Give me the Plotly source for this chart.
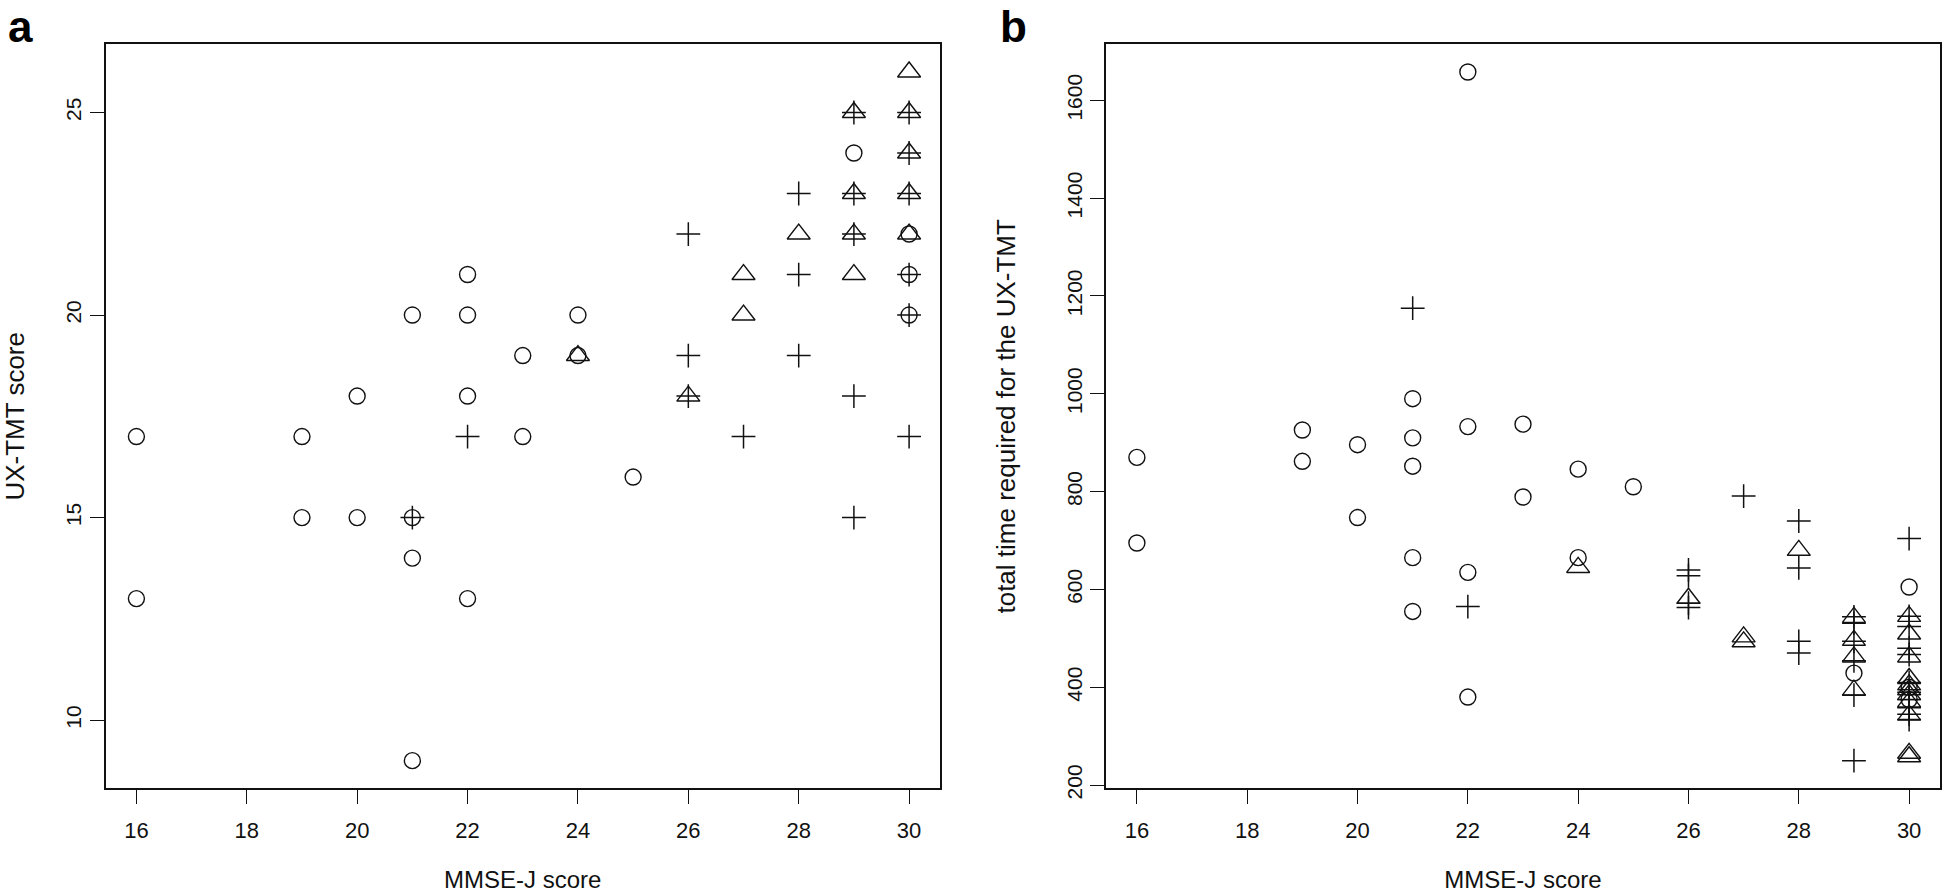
import plotly.graph_objects as go

# ---------------- Panel a: UX-TMT score vs MMSE-J score ----------------
a_circle_x = [16, 16, 19, 19, 20, 20, 21, 21, 21, 21, 22, 22, 22, 22, 23, 23, 24, 24, 25, 29, 30, 30, 30]
a_circle_y = [17, 13, 17, 15, 18, 15, 20, 15, 14, 9, 21, 20, 18, 13, 19, 17, 20, 19, 16, 24, 22, 21, 20]

a_plus_x = [21, 22, 26, 26, 26, 27, 28, 28, 28, 29, 29, 29, 29, 29, 30, 30, 30, 30, 30, 30]
a_plus_y = [15, 17, 22, 19, 18, 17, 23, 21, 19, 25, 23, 22, 18, 15, 25, 24, 23, 21, 20, 17]

a_tri_x = [24, 26, 27, 27, 28, 29, 29, 29, 29, 30, 30, 30, 30, 30]
a_tri_y = [19, 18, 21, 20, 22, 25, 23, 22, 21, 26, 25, 24, 23, 22]

# ---------------- Panel b: total time vs MMSE-J score ----------------
b_circle_x = [16, 16, 19, 19, 20, 20, 21, 21, 21, 21, 21, 22, 22, 22, 22, 23, 23, 24, 24, 25, 29, 30, 30, 30]
b_circle_y = [870, 695, 926, 862, 896, 747, 990, 910, 852, 665, 555, 1658, 933, 635, 380, 938, 789, 846, 665, 810,
              429, 605, 400, 375]

b_plus_x = [21, 22, 26, 26, 26, 26, 27, 28, 28, 28, 28, 29, 29, 29, 29, 29, 29,
            30, 30, 30, 30, 30, 30, 30, 30, 30, 30, 30]
b_plus_y = [1175, 565, 640, 628, 572, 563, 791, 740, 644, 494, 470, 544, 531, 494, 454, 384, 250,
            704, 545, 524, 480, 467, 410, 390, 375, 358, 345, 334]

b_tri_x = [24, 26, 27, 27, 28, 29, 29, 29, 29, 30, 30, 30, 30, 30, 30, 30, 30, 30, 30, 30]
b_tri_y = [645, 582, 503, 493, 680, 543, 496, 462, 394, 545, 509, 462, 418, 405, 395, 385, 370, 343, 265, 258]

x_ticks = [16, 18, 20, 22, 24, 26, 28, 30]
a_y_ticks = [10, 15, 20, 25]
b_y_ticks = [200, 400, 600, 800, 1000, 1200, 1400, 1600]

x_title = "MMSE-J score"
a_y_title = "UX-TMT score"
b_y_title = "total time required for the UX-TMT"
panel_labels = ["a", "b"]

FONT = "Liberation Sans, Arial, sans-serif"
BLACK = "#111111"


def r_range(vals):
    lo, hi = min(vals), max(vals)
    pad = (hi - lo) * 0.04
    return [lo - pad, hi + pad]


fig = go.Figure()

def add_panel(cx, cy, px, py, tx, ty, xa, ya):
    fig.add_trace(go.Scatter(
        x=cx, y=cy, mode="markers", xaxis=xa, yaxis=ya, showlegend=False,
        marker=dict(symbol="circle-open", size=16, color=BLACK, line=dict(width=1.4, color=BLACK))))
    fig.add_trace(go.Scatter(
        x=px, y=py, mode="markers", xaxis=xa, yaxis=ya, showlegend=False,
        marker=dict(symbol="cross-thin-open", size=17, color=BLACK, line=dict(width=1.5, color=BLACK))))
    fig.add_trace(go.Scatter(
        x=tx, y=ty, mode="markers", xaxis=xa, yaxis=ya, showlegend=False,
        marker=dict(symbol="triangle-up-open", size=20, color=BLACK, line=dict(width=1.4, color=BLACK))))

add_panel(a_circle_x, a_circle_y, a_plus_x, a_plus_y, a_tri_x, a_tri_y, "x", "y")
add_panel(b_circle_x, b_circle_y, b_plus_x, b_plus_y, b_tri_x, b_tri_y, "x2", "y2")

W, H = 1946, 893
y_dom = [(H - 798) / H, (H - 45) / H]

all_x = a_circle_x + a_plus_x + a_tri_x
a_all_y = a_circle_y + a_plus_y + a_tri_y
b_all_y = b_circle_y + b_plus_y + b_tri_y

axis_common = dict(
    showline=True, mirror=True, linecolor=BLACK, linewidth=1.6,
    ticks="outside", ticklen=14, tickwidth=1.4, tickcolor=BLACK,
    showgrid=False, zeroline=False,
)
x_tick_font = dict(family=FONT, size=22, color=BLACK)
y_tick_font = dict(family=FONT, size=21, color=BLACK)
x_title_font = dict(family=FONT, size=24, color=BLACK)
y_title_font = dict(family=FONT, size=26, color=BLACK)

fig.update_layout(
    width=W, height=H,
    margin=dict(l=0, r=0, t=0, b=0),
    paper_bgcolor="white", plot_bgcolor="white",
    xaxis=dict(domain=[105.5 / W, 940 / W], range=r_range(all_x), tickvals=x_ticks,
               tickfont=x_tick_font, ticklabelstandoff=8,
               title=dict(text=x_title, standoff=30, font=x_title_font), anchor="y", **axis_common),
    yaxis=dict(domain=y_dom, range=r_range(a_all_y), tickvals=a_y_ticks, tickangle=-90,
               tickfont=y_tick_font,
               title=dict(text=a_y_title, standoff=40, font=y_title_font), anchor="x", **axis_common),
    xaxis2=dict(domain=[1106 / W, 1940 / W], range=r_range(all_x), tickvals=x_ticks,
                tickfont=x_tick_font, ticklabelstandoff=8,
                title=dict(text=x_title, standoff=30, font=x_title_font), anchor="y2", **axis_common),
    yaxis2=dict(domain=y_dom, range=r_range(b_all_y), tickvals=b_y_ticks, tickangle=-90,
                tickfont=y_tick_font,
                title=dict(text=b_y_title, standoff=40, font=y_title_font), anchor="x2", **axis_common),
)

fig.add_annotation(text="<b>" + panel_labels[0] + "</b>", x=6 / W, y=1, xref="paper", yref="paper",
                   xanchor="left", yanchor="top", showarrow=False,
                   font=dict(family=FONT, size=44, color="black"))
fig.add_annotation(text="<b>" + panel_labels[1] + "</b>", x=998 / W, y=1, xref="paper", yref="paper",
                   xanchor="left", yanchor="top", showarrow=False,
                   font=dict(family=FONT, size=44, color="black"))

fig.write_html("out.html", config={"displayModeBar": False},
               post_script="document.body.style.margin='0px';")
